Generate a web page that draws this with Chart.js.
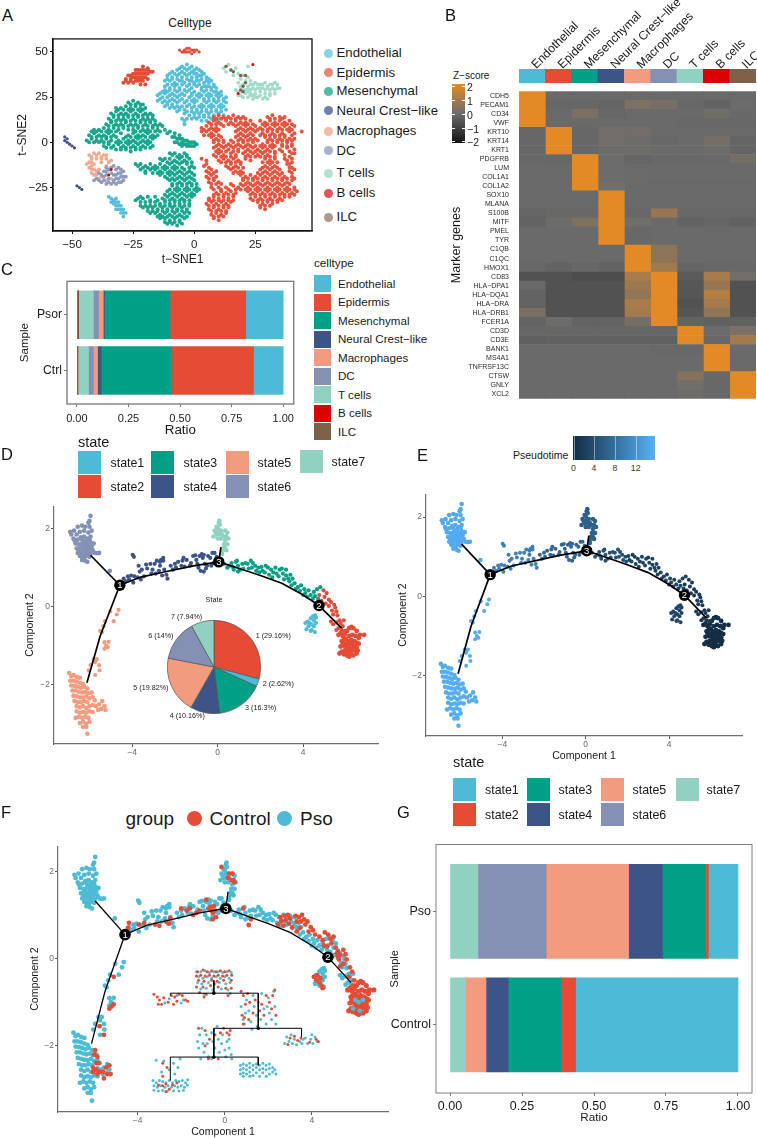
<!DOCTYPE html>
<html>
<head>
<meta charset="utf-8">
<title>Cell atlas panels</title>
<script src="https://cdn.jsdelivr.net/npm/chart.js@4"></script>
<style>
  html, body { margin: 0; padding: 0; background: #fff; }
  body { position: relative; width: 757px; height: 1138px; overflow: hidden; font-family: "Liberation Sans", Arial, sans-serif; }
  canvas { position: absolute; }
  .t { position: absolute; white-space: nowrap; line-height: 1; }
  .k { position: absolute; }
</style>
</head>
<body>
<script>
const tsneXTicks = [-50, -25, 0, 25];
const tsneYTicks = [-25, 0, 25, 50];
const celltypes = ['Endothelial', 'Epidermis', 'Mesenchymal', 'Neural Crest\u2212like', 'Macrophages', 'DC', 'T cells', 'B cells', 'ILC'];
const celltypeColors = ['#4DBBD5', '#E64B35', '#00A087', '#3C5488', '#F39B7F', '#8491B4', '#91D1C2', '#DC0000', '#7E6148'];
const tsneLegendColors = ['#86D3E6', '#EF8372', '#52BBA3', '#7180AC', '#F6B9A1', '#A9B2CF', '#B4E0D4', '#E8505B', '#AE9A88'];

const endoMain = [-5,42,-3,43,-1,42,1,41,-9,39,-7,40,-5,39,-3,40,-1,39,1,38,3,39,-11,37,-9,36,-7,37,-5,36,-3,37,-1,36,1,36,3,37,5,36,6,35,
  -12,34,-10,34,-8,33,-6,34,-4,33,-2,34,0,33,2,34,4,33,6,33,8,32,-12,31,-10,30,-8,31,-6,30,-3,31,-1,30,1,31,3,30,5,31,7,30,9,30,
  -13,28,-11,28,-9,27,-7,28,-5,27,-3,28,-1,27,2,27,4,28,6,27,8,28,10,27,-15,26,-13,25,-11,25,-9,24,-7,25,-5,24,-2,25,0,24,2,25,4,24,6,25,8,24,10,25,12,24,
  -15,23,-13,22,-11,22,-9,21,-7,22,-4,22,-2,21,0,22,3,21,5,22,7,21,9,22,11,21,13,22,-12,20,-10,19,-8,19,-6,19,-4,18,-1,19,1,18,3,19,5,18,7,19,9,18,11,19,13,18,
  -7,17,-4,16,-2,15,0,16,2,16,4,15,6,16,8,15,10,16,12,15,-1,13,1,13,3,12,5,12,7,13,9,12,-5,13,-4,12,-3,13,-4,10];
const endoFill = [-6,41,-4,41,-2,41,0,40,2,40,-10,38,-8,38,-6,38,-4,38,-2,38,0,38,2,37,4,38,-11,35,-9,35,-7,35,-5,34,-3,35,-1,34,1,34,3,35,5,34,7,34,
  -11,32,-9,32,-7,32,-5,32,-2,32,0,32,2,32,4,31,6,31,8,31,-12,29,-10,29,-8,29,-6,29,-4,29,-2,29,0,28,3,29,5,29,7,29,9,28,11,28,
  -14,27,-12,27,-10,26,-8,26,-6,26,-4,26,-1,26,1,26,3,26,5,26,7,26,9,26,11,26,13,25,-14,24,-12,23,-10,23,-8,23,-6,23,-3,23,-1,23,1,23,4,23,6,23,8,23,10,23,12,23,
  -11,21,-9,20,-7,20,-5,20,-3,20,0,20,2,20,4,20,6,20,8,20,10,20,12,20,-6,18,-3,17,-1,17,1,17,3,17,5,17,7,17,9,17,11,17,0,14,2,14,4,14,6,14,8,14,10,13];
const endoSmall = [-35,-30,-34,-31,-33,-32,-34,-33,-33,-34,-31,-33,-32,-35,-30,-35,-31,-37,-29,-37,-30,-39,-28,-39,-29,-41,-32,-37,-33,-33,-32,-33,-31,-35,-30,-37,-29,-39,-32,-31];
const epiMain = [8,14,10,15,12,14,14,14,16,15,18,14,20,14,30,14,32,15,35,14,37,14,6,11,8,12,10,11,13,12,15,11,17,12,19,11,21,11,23,12,27,12,29,11,31,12,33,11,35,12,37,11,39,12,
  3,8,5,9,7,8,9,8,12,9,17,9,19,8,21,9,23,8,25,9,27,8,29,9,31,8,33,9,35,8,37,9,39,8,41,9,3,6,5,6,7,5,9,6,17,6,19,5,21,6,23,5,25,6,28,5,30,6,32,5,34,6,36,5,39,6,41,5,44,6,
  7,3,9,2,11,3,17,3,19,2,21,3,23,2,25,2,29,3,31,2,33,3,35,2,37,3,39,2,41,2,8,0,10,-1,12,0,14,-1,16,0,18,-1,20,0,22,-1,24,0,28,-1,30,0,32,-1,34,0,36,-1,38,0,40,-1,
  8,-3,10,-4,12,-3,14,-4,16,-3,18,-4,20,-3,22,-4,24,-3,26,-4,28,-3,30,-4,32,-3,35,-4,38,-3,41,-4,8,-7,10,-6,12,-7,15,-6,17,-7,20,-6,22,-7,24,-6,26,-7,28,-6,30,-7,33,-6,37,-7,40,-6,
  3,-9,5,-10,10,-10,12,-9,14,-10,16,-9,18,-10,21,-9,23,-10,29,-9,31,-10,33,-9,38,-10,40,-9,4,-13,6,-14,13,-13,15,-12,17,-13,19,-12,29,-13,31,-12,33,-13,39,-12,40,-14,
  5,-16,7,-15,9,-16,15,-15,17,-16,19,-16,27,-15,29,-16,31,-15,33,-16,35,-15,39,-16,41,-15,5,-19,7,-18,9,-19,19,-18,21,-19,23,-18,25,-19,27,-18,29,-19,31,-18,33,-19,35,-18,37,-19,40,-19,
  6,-22,8,-21,10,-22,20,-21,22,-22,24,-21,26,-22,28,-21,30,-22,32,-21,34,-22,36,-21,38,-22,40,-21,7,-25,10,-25,13,-25,16,-24,18,-25,20,-24,22,-25,24,-24,26,-25,28,-24,30,-25,32,-24,34,-25,36,-24,38,-25,41,-25,
  9,-28,11,-27,13,-28,15,-27,17,-28,22,-27,24,-28,26,-27,28,-28,30,-27,32,-28,34,-27,36,-28,38,-27,40,-28,42,-27,6,-31,8,-30,10,-31,12,-30,14,-31,16,-30,23,-31,25,-30,27,-31,29,-30,31,-31,33,-30,35,-31,37,-30,39,-30,
  5,-34,7,-33,9,-34,11,-33,13,-34,15,-33,26,-33,28,-34,30,-33,32,-34,34,-33,6,-37,8,-36,10,-37,12,-36,14,-36,27,-36,29,-37,7,-40,9,-39,11,-40,13,-39,8,-42,10,-43];
const epiFill = [9,13,11,13,13,13,15,13,17,13,19,13,21,13,31,13,33,13,36,13,7,10,9,10,11,10,14,10,16,10,18,10,20,10,22,10,24,10,28,10,30,10,32,10,34,10,36,10,38,10,40,10,
  4,7,6,7,8,7,10,7,18,7,20,7,22,7,24,7,26,7,28,7,30,7,32,7,34,7,36,7,38,7,40,7,4,4,6,4,8,4,10,4,18,4,20,4,22,4,24,4,27,4,29,4,31,4,33,4,35,4,37,4,40,4,
  8,1,10,1,12,1,15,1,18,1,20,1,22,1,24,1,26,1,30,1,32,1,34,1,36,1,38,1,40,1,9,-2,11,-2,13,-2,15,-2,17,-2,19,-2,21,-2,23,-2,25,-2,27,-2,29,-2,31,-2,33,-2,36,-2,38,-2,40,-2,
  9,-5,11,-5,13,-5,16,-5,18,-5,21,-5,23,-5,25,-5,27,-5,29,-5,31,-5,33,-5,36,-5,39,-5,41,-6,9,-8,11,-8,13,-8,15,-8,17,-8,21,-8,23,-8,25,-8,27,-8,29,-8,31,-8,33,-8,37,-9,39,-8,
  11,-11,13,-11,15,-11,17,-11,19,-11,28,-11,30,-11,32,-11,34,-11,38,-12,40,-11,5,-12,14,-14,16,-14,18,-14,20,-14,28,-14,30,-14,32,-14,34,-14,39,-14,
  6,-17,8,-17,16,-17,18,-17,20,-17,26,-17,28,-17,30,-17,32,-17,34,-17,36,-17,40,-17,6,-20,8,-20,20,-20,22,-20,24,-20,26,-20,28,-20,30,-20,32,-20,34,-20,36,-20,38,-20,41,-20,
  7,-23,9,-23,11,-23,15,-23,19,-23,21,-23,23,-23,25,-23,27,-23,29,-23,31,-23,33,-23,35,-23,37,-23,39,-23,8,-26,11,-26,14,-26,17,-26,19,-26,21,-26,23,-26,25,-26,27,-26,29,-26,31,-26,33,-26,35,-26,37,-26,39,-26,41,-26,
  8,-29,10,-29,12,-29,14,-29,16,-29,23,-29,25,-29,27,-29,29,-29,31,-29,33,-29,35,-29,37,-29,39,-29,41,-29,6,-32,8,-32,10,-32,12,-32,14,-32,16,-32,24,-32,26,-32,28,-32,30,-32,32,-32,34,-32,36,-32,
  6,-35,8,-35,10,-35,12,-35,14,-35,27,-35,29,-35,31,-35,7,-38,9,-38,11,-38,13,-38,8,-41,10,-41,12,-41];
const epiUpper = [-29,33,-27,33,-25,33,-23,34,-21,34,-28,35,-26,35,-24,36,-22,36,-20,36,-19,35,-27,37,-25,38,-23,38,-21,38,-19,38,-24,40,-22,40,-20,40,-18,39,-21,42,-19,41,-17,39,-22,32,-20,32,-28,34,-26,34,-24,34,-22,34,-25,36,-23,36,-21,36,-26,37,-24,38,-22,38,-20,38,-23,40,-21,40,-19,40];
const epiTip = [-6,51,-5,50,-4,51,-3,50,-2,52,-1,51,0,50,1,51,2,50,-3,52,-1,49,-4,50,-2,50,0,51];
const mesTop = [-27,22,-25,23,-23,22,-21,21,-32,19,-30,19,-28,20,-26,19,-24,20,-22,19,-20,19,-34,16,-32,17,-30,16,-28,16,-26,17,-24,16,-22,17,-20,16,-18,16,
  -35,13,-33,14,-31,13,-29,13,-27,14,-25,13,-23,14,-21,13,-19,13,-17,13,-36,10,-34,11,-32,10,-30,10,-28,11,-26,10,-24,10,-22,11,-20,10,-18,11,-16,10,-14,10,
  -41,7,-39,7,-37,8,-35,7,-33,8,-31,7,-29,8,-27,7,-25,7,-23,8,-21,7,-19,7,-17,8,-15,7,-12,7,-10,6,-43,4,-41,5,-39,4,-37,4,-35,5,-33,4,-27,4,-25,5,-23,4,-21,4,-19,5,-17,4,-15,4,-8,5,-6,4,
  -44,1,-42,2,-40,1,-38,1,-36,2,-34,1,-31,1,-29,2,-27,1,-25,1,-23,2,-21,1,-19,1,-17,2,-9,3,-7,2,-5,2,-3,1,-1,0,1,-1,-6,-1,-4,-1,-2,-2,0,-2,-8,0,-5,0,-3,-1,
  -37,-2,-35,-1,-33,-2,-31,-1,-29,-2,-27,-1,-25,-2,-23,-1,-21,-2,-19,-1,-17,-2,-32,-4,-30,-4,-28,-4,-26,-5,-24,-4,-22,-4];
const mesTopFill = [-26,21,-24,21,-22,21,-31,18,-29,18,-27,18,-25,18,-23,18,-21,18,-33,15,-31,15,-29,15,-27,15,-25,15,-23,15,-21,15,-19,15,-17,15,
  -34,12,-32,12,-30,12,-28,12,-26,12,-24,12,-22,12,-20,12,-18,12,-16,12,-35,9,-33,9,-31,9,-29,9,-27,9,-25,9,-23,9,-21,9,-19,9,-17,9,-15,9,-13,9,
  -42,6,-40,6,-38,6,-36,6,-34,6,-32,6,-30,5,-24,6,-22,6,-20,6,-18,6,-16,6,-14,6,-11,5,-42,3,-40,3,-38,3,-36,3,-34,3,-32,3,-28,3,-26,3,-24,3,-22,3,-20,3,-18,3,-16,3,-8,3,-6,2,
  -43,0,-41,0,-39,0,-37,0,-35,0,-32,0,-30,0,-28,0,-26,0,-24,0,-22,0,-20,0,-18,0,-4,1,-2,0,0,0,-7,0,-36,-3,-34,-3,-30,-3,-28,-3,-26,-3,-24,-3,-22,-3,-20,-3,-18,-3,-5,-2,-3,-2,-1,-2];
const mesBottom = [-10,-6,-8,-6,-6,-7,-4,-6,-3,-8,-14,-9,-12,-9,-10,-9,-8,-10,-6,-9,-4,-10,-2,-9,-24,-12,-22,-12,-20,-13,-18,-12,-16,-13,-14,-12,-12,-13,-10,-12,-8,-13,-6,-12,-3,-12,-1,-13,
  -22,-15,-20,-16,-18,-15,-16,-15,-14,-16,-12,-15,-10,-16,-8,-15,-6,-16,-4,-15,-2,-16,-14,-18,-12,-19,-10,-18,-8,-18,-6,-19,-4,-18,-2,-19,0,-18,-10,-21,-8,-21,-6,-22,-4,-21,-2,-22,0,-21,
  -9,-24,-7,-25,-5,-24,-3,-25,-1,-24,1,-25,-11,-27,-9,-28,-7,-27,-5,-28,-3,-27,-1,-28,1,-27,-22,-30,-19,-30,-16,-30,-13,-31,-11,-30,-9,-31,-7,-30,-5,-31,-3,-30,-1,-30,
  -24,-32,-22,-33,-20,-33,-18,-33,-16,-33,-14,-34,-12,-33,-10,-34,-8,-33,-6,-34,-4,-33,-2,-34,-21,-36,-19,-36,-17,-36,-15,-37,-13,-36,-11,-37,-9,-36,-7,-37,-5,-36,-3,-37,
  -18,-39,-16,-39,-14,-40,-12,-39,-10,-40,-8,-39,-6,-40,-4,-39,-2,-39,-14,-42,-12,-42,-10,-43,-8,-42,-6,-43,-4,-42,-11,-45,-9,-45,-7,-46,-5,-45];
const mesBottomFill = [-9,-7,-7,-8,-5,-8,-3,-7,-13,-10,-11,-11,-9,-11,-7,-11,-5,-11,-3,-11,-1,-11,-23,-13,-21,-14,-19,-14,-17,-14,-15,-14,-13,-14,-11,-14,-9,-14,-7,-14,-5,-14,-2,-14,0,-14,
  -20,-17,-17,-17,-15,-17,-13,-17,-11,-17,-9,-17,-7,-17,-5,-17,-3,-17,-1,-17,-11,-20,-9,-20,-7,-20,-5,-20,-3,-20,-1,-20,-9,-23,-7,-23,-5,-23,-3,-23,-1,-23,1,-23,
  -10,-26,-8,-26,-6,-26,-4,-26,-2,-26,0,-26,2,-26,-12,-29,-10,-29,-8,-29,-6,-29,-4,-29,-2,-29,0,-29,-23,-31,-21,-31,-18,-32,-15,-32,-12,-32,-10,-32,-8,-32,-6,-32,-4,-32,-2,-32,
  -22,-35,-20,-35,-18,-35,-16,-35,-14,-35,-12,-35,-10,-35,-8,-35,-6,-35,-4,-35,-2,-35,-19,-38,-17,-38,-15,-38,-13,-38,-11,-38,-9,-38,-7,-38,-5,-38,-3,-38,
  -15,-41,-13,-41,-11,-41,-9,-41,-7,-41,-5,-41,-3,-41,-12,-44,-10,-44,-8,-44,-6,-44];
const neuralCrest = [-53,3,-52,2,-53,1,-52,0,-51,-1,-50,-2,-49,-3,-48,-24,-47,-25,-46,-26];
const macPts = [-43,-7,-41,-6,-39,-6,-37,-7,-36,-9,-42,-9,-40,-9,-38,-9,-34,-10,-43,-11,-41,-12,-43,-14,-41,-15,-42,-17,-40,-18,-38,-19,-34,-20,-36,-21,-39,-15,-36,-13,
  -42,-8,-40,-7,-38,-8,-36,-7,-35,-11,-42,-11,-44,-12,-42,-13,-42,-15,-40,-16,-41,-18,-39,-20,-38,-11];
const dcPts = [-40,-20,-38,-22,-36,-23,-34,-23,-32,-23,-30,-22,-28,-19,-29,-16,-31,-14,-33,-13,-35,-15,-37,-16,-39,-17,-30,-19,-33,-18,-35,-20,-32,-20,-31,-17,-29,-21,-37,-19,-41,-21,-36,-14,
  -39,-21,-37,-21,-35,-22,-33,-22,-31,-22,-29,-19,-30,-15,-32,-15,-34,-14,-36,-16,-38,-18,-36,-18,-34,-17,-32,-18,-30,-17,-33,-21,-31,-20];
const tPts = [18,26,17,29,19,31,21,33,23,32,25,33,27,32,29,33,31,32,33,33,20,29,22,30,24,30,26,30,28,30,30,30,32,30,34,30,35,30,19,26,21,27,23,27,25,27,27,28,29,27,31,27,33,27,22,25,24,24,26,25,28,24,30,24,
  18,28,20,32,22,31,24,32,26,32,28,32,30,31,32,32,34,32,19,28,21,29,23,29,25,29,27,30,29,29,31,29,33,29,20,25,23,26,25,25,27,26,29,25,31,26,22,28,24,26,
  12,41,14,43,13,39,15,40,17,41,16,37,18,38,20,37,22,36,23,34,21,34,19,35,22,42,18,33,-35,-17];
const bPts = [24,43,18,27,-34,-15,-35,-18];
const ilcPts = [13,42,15,40,16,39,19,37,21,37,21,33,20,31,19,29,20,28];

// ---------- panel B ----------
const genes = ['CDH5','PECAM1','CD34','VWF','KRT10','KRT14','KRT1','PDGFRB','LUM','COL1A1','COL1A2','SOX10','MLANA','S100B','MITF','PMEL','TYR','C1QB','C1QC','HMOX1','CD83','HLA\u2212DPA1','HLA\u2212DQA1','HLA\u2212DRA','HLA\u2212DRB1','FCER1A','CD3D','CD3E','BANK1','MS4A1','TNFRSF13C','CTSW','GNLY','XCL2'];
const zScores = [
  [2,-.05,-.05,-.05,-.05,-.05,-.05,-.05,-.05],
  [2,-.12,-.12,-.15,.3,.18,-.08,-.22,-.02],
  [2,-.05,.25,-.12,-.05,-.05,-.05,.08,-.06],
  [2,-.05,-.05,-.05,-.05,-.05,-.08,-.08,-.08],
  [-.12,2,-.12,.08,.08,-.06,-.05,-.05,-.05],
  [-.12,2,-.12,.1,.02,-.1,-.05,.15,-.15],
  [-.12,2,-.12,.02,.05,-.05,-.05,.05,-.15],
  [-.08,-.12,2,0,-.15,-.1,-.1,-.06,.14],
  [-.04,-.04,2,0,-.05,-.05,-.05,-.05,-.05],
  [-.04,-.04,2,.03,-.03,-.05,-.05,-.05,-.05],
  [-.04,-.04,2,.1,-.05,-.06,-.06,-.06,-.06],
  [-.04,-.04,-.04,2,-.04,-.04,-.04,-.04,-.04],
  [-.04,-.04,-.04,2,-.04,-.04,-.04,-.04,-.04],
  [-.15,-.1,-.1,2,-.1,.72,-.1,-.1,-.1],
  [-.2,.02,.3,2,.1,-.05,-.2,-.15,-.25],
  [-.04,-.04,-.04,2,-.08,-.04,-.04,-.04,-.04],
  [-.04,-.04,-.04,2,-.08,-.04,-.04,-.04,-.04],
  [-.04,-.04,-.04,-.04,2,.55,-.04,-.04,-.04],
  [-.04,-.04,-.04,-.04,2,.55,-.04,-.04,-.04],
  [-.1,-.2,-.12,-.2,2,.85,-.15,-.1,-.1],
  [-.6,-.6,-.7,-.7,1.05,2,-.4,1,.1],
  [-.1,-.6,-.6,-.6,.8,2,-.5,.72,-.6],
  [-.2,-.6,-.6,-.6,.6,2,-.5,1.2,-.6],
  [-.2,-.6,-.6,-.6,1,2,-.6,.9,-.6],
  [.2,-.6,-.6,-.6,.9,2,-.5,.6,-.6],
  [-.2,.02,-.2,-.2,.15,2,-.2,-.25,-.25],
  [-.12,-.12,-.12,-.12,-.12,-.12,2,-.02,.25],
  [-.3,-.25,-.25,-.25,-.25,-.25,2,-.1,.9],
  [-.04,-.04,-.04,-.04,-.04,-.08,-.08,2,-.04],
  [-.04,-.04,-.04,-.04,-.04,-.04,-.04,2,-.04],
  [-.04,-.04,-.04,-.04,-.04,-.04,-.04,2,-.04],
  [-.04,-.04,-.04,-.04,-.04,-.04,.4,-.1,2],
  [-.04,-.04,-.04,-.04,-.04,-.04,.1,-.1,2],
  [-.04,-.04,-.04,-.04,-.04,-.04,.03,-.1,2]
];

// ---------- panel C ----------
const ratioTicks = [0, 0.25, 0.5, 0.75, 1];
const celltypeSamples = ['Ctrl', 'Psor'];
const stackOrderC = ['ILC', 'B cells', 'T cells', 'DC', 'Macrophages', 'Neural Crest\u2212like', 'Mesenchymal', 'Epidermis', 'Endothelial'];
const psorRatios = [.007, .001, .072, .025, .023, .006, .318, .366, .182];
const ctrlRatios = [.004, .001, .051, .024, .02, .017, .343, .396, .144];

// ---------- panels D, E, F: pseudotime trajectory ----------
const compXTicks = [-4, 0, 4];
const compYTicks = [-2, 0, 2];
const states = ['state1', 'state2', 'state3', 'state4', 'state5', 'state6', 'state7'];
const stateColors = ['#4DBBD5', '#E64B35', '#00A087', '#3C5488', '#F39B7F', '#8491B4', '#91D1C2'];
const statePieShare = [2.62, 29.16, 16.3, 10.16, 19.82, 14, 7.94];

const state1Pts = [4.1,-.42,4.2,-.38,4.25,-.5,4.3,-.42,4.35,-.3,4.4,-.45,4.4,-.6,4.45,-.25,4.5,-.35,4.5,-.5,4.55,-.22,4.55,-.65,4.6,-.42,4.35,-.62,4.6,-.28,4.15,-.58];
const state2Arm = [4.75,.3,4.85,.15,4.95,.42,5,.25,5.05,.08,5.1,.35,5.2,.18,5.2,.02,5.3,.12,5.35,-.1,5.45,.05,5.5,-.02,5.55,-.12,5.4,-.2,5.6,-.22,5.3,-.38,5.4,-.45,5.55,-.4,5.7,-.35,5.75,-.42,5.85,-.5,5.9,-.35,5.65,-.55,5.55,-.6,5.8,-.6,5.95,-.62];
const state2Blob = [5.65,-.72,5.75,-.68,5.85,-.75,5.95,-.7,6.05,-.62,6.15,-.55,6.25,-.52,6.35,-.55,6.5,-.62,6.65,-.72,6.85,-.72,6.6,-.8,6.45,-.75,6.3,-.72,6.15,-.75,6,-.82,5.9,-.85,5.8,-.88,6.1,-.88,6.25,-.85,6.4,-.88,6.5,-.92,6.6,-.95,6.3,-.95,6.15,-.98,6,-.95,5.9,-1,5.75,-1.02,6.05,-1.05,6.2,-1.08,6.35,-1.03,6.5,-1.03,6.55,-1.12,6.4,-1.12,6.25,-1.15,6.1,-1.15,5.95,-1.12,5.8,-1.15,5.7,-1.2,5.9,-1.22,6.05,-1.25,6.2,-1.25,6.35,-1.25,6.5,-1.2,6.15,-1.28,5.85,-.95,6.2,-.92,6.4,-.98,6.1,-1,6.3,-1.1,6,-1.18];
const state3West = [.3,1.1,.45,1,.55,1.05,.7,1.02,.75,.95,.65,1.12,.85,1.15,.9,1.18,.95,1.05,1.05,.95,.95,.9,1.2,.98,1.3,1.12,1.15,1.1,1.4,1.1,1.45,.98,1.55,1.18,1.65,1.12,1.6,1,1.75,1.05,1.8,.92,1.9,1,1.95,.88];
const state3East = [2.05,1.02,2.1,.92,2.2,.88,2.25,1.05,2.35,1,2.4,.82,2.5,.95,2.6,.88,2.55,.75,2.7,1,2.75,.85,2.85,.78,2.9,.95,3,.98,3.05,.85,3.1,.7,3.2,.8,3.2,.95,3.3,.72,3.35,.65,3.4,.82,3.5,.72,3.45,.55,3.6,.6,3.65,.45,3.75,.5,3.85,.4,3.9,.55,4,.3,4.05,.45,4.1,.35,4.2,.25,4.25,.42,4.35,.3,4.45,.2,4.5,.38,4.55,.27,4.65,.45,4.7,.2,4.8,.5];
const state4West = [-4.3,.65,-4.4,.72,-4.2,.78,-4.05,.8,-3.9,.78,-4.15,.7,-3.95,.62,-3.75,.75,-3.6,.7,-3.45,.78,-3.98,1.33,-3.92,1.28,-3.65,.9,-3.7,1.05,-3.55,.95,-3.35,1.08,-3.3,.98,-3.15,1.1,-3.05,.95,-2.95,1.1,-3.1,.85,-2.9,.85,-2.75,.92,-2.85,1.18,-2.7,1.05,-2.55,1.18,-2.65,1.2,-2.5,.95,-2.4,.82,-2.6,.8,-2.35,.72,-2.55,1.25,-2.7,1.15];
const state4East = [-2.2,1.05,-2,1.1,-2.1,.95,-1.95,1,-1.85,1.15,-1.65,1.18,-1.7,1.05,-1.55,1.03,-1.45,1.2,-1.6,1.25,-1.3,1.05,-1.25,1.12,-1.15,1.3,-1.05,1.32,-1,1.2,-.95,1.1,-.85,1.3,-.9,1,-.8,.92,-.75,1.35,-.65,1.33,-.7,1.25,-.6,1.1,-.65,.9,-.55,.98,-.45,1.3,-.5,1.05,-.35,1.25,-.25,1.38,-.3,1.05,-.15,1.38,-.1,1.2,-.05,1.28,-.2,1.12];
const state5Arm = [-4.64,-.08,-4.72,-.2,-4.87,-.37,-5.03,-.12,-5.27,-.37,-5.35,-.5,-5.42,-.66,-5.5,-.62,-5.22,-1,-5.3,-1.08,-5.15,-1.04,-5.3,-.91,-5.65,-1.34,-5.8,-1.34,-5.95,-1.5,-5.55,-1.5,-5.73,-1.75,-5.53,-1.63,-6.04,-1.63,-5.73,-1.42,-5.1,-.9];
const state5Blob = [-6.95,-1.7,-6.85,-1.78,-6.75,-1.75,-6.6,-1.8,-6.45,-1.82,-6.9,-1.9,-6.75,-1.9,-6.6,-1.92,-6.45,-1.95,-6.3,-1.98,-6.85,-2.02,-6.7,-2.03,-6.55,-2.05,-6.4,-2.08,-6.25,-2.05,-6.1,-2.1,-6.8,-2.15,-6.65,-2.15,-6.5,-2.18,-6.35,-2.2,-6.2,-2.18,-6.05,-2.22,-5.9,-2.2,-6.75,-2.28,-6.6,-2.3,-6.45,-2.32,-6.3,-2.33,-6.15,-2.3,-6,-2.35,-5.85,-2.32,-6.7,-2.42,-6.55,-2.45,-6.4,-2.45,-6.25,-2.42,-6.1,-2.45,-5.75,-2.4,-6.6,-2.55,-6.45,-2.58,-6.3,-2.55,-6.15,-2.6,-6,-2.55,-5.85,-2.52,-5.7,-2.55,-5.55,-2.5,-5.4,-2.42,-5.3,-2.55,-5.25,-2.65,-5.45,-2.62,-5.6,-2.65,-6.6,-2.68,-6.45,-2.72,-6.3,-2.7,-6.15,-2.72,-6,-2.68,-5.85,-2.7,-6.65,-2.85,-6.5,-2.82,-6.35,-2.85,-6.2,-2.82,-6.05,-2.85,-6.45,-2.98,-6.3,-2.95,-6.15,-3,-6,-2.95,-6.3,-3.08,-6.15,-3.08,-6.1,-3.26];
const state6Pts = [-6.9,1.92,-6.85,1.85,-6.72,1.95,-6.55,2.05,-6.35,2.08,-6.2,2.05,-6.05,2.15,-6,2.2,-5.95,2.33,-6,2.05,-5.9,1.95,-6.05,1.9,-6.25,1.95,-6.45,1.92,-6.6,1.85,-6.75,1.75,-6.55,1.72,-6.4,1.78,-6.25,1.8,-6.1,1.75,-5.95,1.8,-5.95,1.65,-6.15,1.62,-6.3,1.65,-6.5,1.6,-6.65,1.62,-6.6,1.5,-6.45,1.5,-6.3,1.52,-6.15,1.5,-6,1.5,-5.85,1.45,-5.8,1.62,-6.55,1.38,-6.4,1.4,-6.25,1.42,-6.1,1.38,-5.95,1.37,-5.75,1.38,-5.55,1.38,-5.65,1.37,-6.45,1.3,-6.3,1.28,-6.15,1.3,-6,1.28,-6.35,1.2,-6.2,1.18,-6.1,1.15,-6.25,1.25,-5.05,.92,
  -6.4,1.6,-6.2,1.58,-6.05,1.58,-6.5,1.45,-6.35,1.45,-6.2,1.45,-6.05,1.45,-5.9,1.55,-6.7,1.7,-6.35,1.72,-6.15,1.7,-6,1.72,-6.4,1.35,-6.2,1.35];
const state7Pts = [-.2,1.8,-.15,1.95,-.1,1.9,-.05,2.05,0,2.02,.05,2.15,.08,2.2,.1,2.1,.05,1.95,.15,1.95,.2,1.85,.1,1.85,-.05,1.85,0,1.75,.15,1.75,.3,1.8,.35,1.95,.45,1.9,.4,1.8,.5,1.75,.35,1.7,.45,1.6,.3,1.6,.35,1.5,.25,1.5,.2,1.42,.4,1.45,.2,1.35];

// points of the arc that show as Control (red) in panel F, the rest is Pso
const controlArc = [2.45,.78,2.55,.95,2.6,.85,2.7,.75,2.75,.98,2.8,.88,2.9,1,2.95,.8,3,.92,3.1,.72,3.25,.98,3.3,.85,3.4,.95,3.5,.85,3.55,1,3.65,.9,3.7,.78,3.8,.85,3.95,.72,3.85,.62,4.05,.65,4.15,.55,4.35,.5,4.5,.42,4.6,.6,4.75,.55,4.85,.45,4.9,.35,5,.5,5.1,.25,5.2,.15,4.7,.28,4.55,.3,3.45,.7,3.3,.62,
  5.15,.12,5.25,-.02,5.3,.08,5.45,.2,5.55,.1,5.6,-.02,5.45,-.12,5.3,-.18,5.75,-.2,5.85,-.3,5.7,-.42,5.95,-.5,5.9,-.62,5.2,.05,4.1,-.42,4.2,-.5,4.25,-.38,4.35,-.55,4.45,-.62,4.5,-.68,4.4,-.45,
  -.75,1.15,-.85,1.35,-1.15,1.1,-.6,1.1,-.55,1.05,-.5,1.2,-.65,1.18,-.45,1.1,-.55,.9,-.4,.95,1.1,.77,.85,1.15,1.2,.9,-1.6,1.15,-1.75,1.1,-2,1.15,-2.55,.8,-3,.75,-2.7,.85,-1.3,1.05,-1.45,1,-2.5,.92,-3.2,.78,-3.7,.82,-4.4,.82,-4.45,.7,-3.95,.78,-.1,1.1,
  -.15,2.1,.2,1.95,.35,1.95,.4,1.8,.45,1.75,.3,1.8,.15,1.85,-6,-2.2,-5.95,-2.1,-5.85,-2.25,-5.9,-2.4,-5.8,-2.4,-6.05,-2.5,-5.9,-2.55,-5.75,-2.6,-5.6,-2.6,-5.45,-2.5,-5.3,-2.45,-5.25,-2.65,-5.4,-2.65,-5.55,-2.75,-5.85,-2.65,-6.05,-2.6,-5.1,-1.05,-5.2,-1.1,-5.3,-1.15,-5.1,-.42,-5.75,-1.55,-5.55,-1.75];
const psoInBlob = [6,-.95,6.15,-1,6.2,-1.2,6.35,-.95,5.9,-1.15];

// small branch tree inset of panel F
const treePso = [-1.3,-.3,-1.1,-.3,-.9,-.28,-.7,-.32,-.5,-.3,-.3,-.3,-.1,-.32,.1,-.3,.3,-.32,-1.2,-.42,-1,-.45,-.8,-.42,-.6,-.45,-.4,-.42,-.2,-.45,0,-.42,.2,-.45,-1.25,-.55,-1.05,-.58,-.75,-.55,-.45,-.58,-.25,-.55,.05,-.58,.25,-.55,-1.1,-.7,-.85,-.68,-.55,-.72,-.15,-.7,.15,-.72,-.95,-.82,.25,-.8,
  -2.75,-1.02,-2.55,-.92,-2.2,-.85,-2,-1.02,-1.9,-.95,.75,-1.1,.85,-1.4,.9,-1.5,1,-.95,1.1,-1.2,1.2,-1.45,1.3,-.85,1.35,-1.1,1.45,-1.3,1.55,-1,1.65,-1.4,1.7,-.8,1.8,-1.15,1.9,-1.5,2,-.9,2.05,-1.25,2.15,-1.4,2.25,-.75,2.3,-1.1,2.35,-1.5,.95,-1.25,1.5,-1.55,1.25,-1.62,1.95,-1.1,
  2.75,-1.95,2.85,-1.8,2.95,-1.9,3.05,-1.75,3.2,-1.85,3.3,-1.98,3.45,-1.9,3.55,-1.95,3.7,-1.82,3.8,-1.95,3.95,-1.85,4.05,-1.95,4.15,-1.8,4.25,-1.9,3.1,-1.95,3.6,-1.85,4,-1.75,
  -1.25,-1.9,-1.2,-2.05,-1.15,-1.75,-1.05,-1.6,-1,-1.95,-.95,-2.15,-.85,-1.75,-.8,-1.95,-.75,-2.25,-.6,-1.7,-.55,-1.9,-.45,-2.05,-.35,-1.55,-.3,-1.85,-.25,-2.15,-.15,-1.95,-.1,-1.75,0,-2.1,.05,-2.25,.1,-1.9,.2,-2.05,.3,-2.2,.32,-2.3,.2,-1.85,-1.1,-2.3,-.6,-2.3,
  -3.3,-2.8,-3.15,-2.85,-3,-2.8,-2.85,-2.82,-2.7,-2.85,-2.55,-2.8,-2.4,-2.85,-2.25,-2.8,-2.1,-2.82,-1.95,-2.8,-1.8,-2.85,-1.7,-2.78,-3.25,-2.92,-3.1,-2.95,-2.95,-2.92,-2.75,-2.95,-2.6,-2.92,-2.45,-2.95,-2.3,-2.92,-2.15,-2.95,-2,-2.92,-1.85,-2.95,-1.72,-2.9,-3.25,-3.02,-3.05,-3.04,-2.85,-3.02,-2.65,-3.05,-2.35,-3.03,-2.1,-3.04,-1.9,-3.02,-3.15,-2.33,-2.8,-2.35,-2.35,-2.4,-2.15,-2.5,-2.55,-2.55,-2.9,-2.6,-2.3,-2.65,-2.05,-2.3,
  .72,-2.45,.72,-2.55,.72,-2.65,.85,-2.42,.85,-2.52,.85,-2.62,.85,-2.7,1,-2.45,1,-2.55,1,-2.65,1.15,-2.4,1.15,-2.5,1.15,-2.6,1.15,-2.7,1.3,-2.45,1.3,-2.55,1.3,-2.68,1.45,-2.42,1.45,-2.5,1.45,-2.62,1.6,-2.45,1.6,-2.55,1.6,-2.7,1.75,-2.4,1.75,-2.52,1.75,-2.62,1.9,-2.45,1.9,-2.55,1.9,-2.7,2.05,-2.42,2.05,-2.52,2.05,-2.65,2.2,-2.5,2.2,-2.6,2.3,-2.55,2.35,-2.65];
const treeControl = [-1.25,-.3,-1,-.26,-.8,-.3,-.6,-.28,-.4,-.3,-.2,-.28,0,-.3,.2,-.28,.32,-.38,-1.3,-.4,-1.1,-.38,-.9,-.4,-.7,-.38,-.5,-.4,-.3,-.38,-.1,-.4,.1,-.38,-1.2,-.5,-.95,-.52,-.6,-.5,-.35,-.52,-.05,-.5,.3,-.5,-1.3,-.65,-1,-.65,-.65,-.62,-.3,-.65,.05,-.68,.3,-.68,-1.15,-.78,-.85,-.82,-.95,-.88,.15,-.85,
  -3.25,-.82,-3.1,-.88,-3,-.95,-2.9,-1.05,-2.8,-.9,-2.6,-1,-2.45,-.85,-2.3,-.88,-2.2,-.98,-2.1,-.82,-1.95,-.85,-1.8,-.95,-1.7,-.98,-2.35,-1.05,-3.05,-1.05,
  .75,-.75,.85,-.85,.95,-1.05,1.05,-.8,.8,-1.3,.9,-1.35,1.15,-1,1.3,-1.25,1.4,-.95,1.6,-1.2,1.7,-1.05,1.8,-1.3,1.9,-.85,2.05,-1,2.15,-1.15,2.2,-.85,2.3,-.72,2.35,-1.3,1.1,-1.4,.85,-1.5,
  3,-1.82,3.2,-1.78,3.35,-1.88,3.5,-1.82,3.9,-1.92,4.2,-1.85,4.3,-1.9,2.9,-1.97,-1.2,-1.6,-.9,-1.65,-.7,-1.85,-.45,-1.75,-.2,-1.7,-.05,-1.6,.1,-1.7,.2,-1.75,.25,-1.65,-.9,-2,-.3,-2.3,-.75,-2.3,
  -3.05,-2.9,-2.85,-2.92,-2.7,-2.88,-2.55,-3,-2.4,-2.9,-2.2,-2.85,-2.7,-3.05,-2.85,-2.4,-2.65,-2.5,-2.85,-2.7];

const branchLines = [
  [-4.58,.55,-5.95,1.32],
  [-4.58,.55,-5.5,-.75,-6.12,-1.95],
  [-4.58,.55,-3.6,.76,-2.5,.89,-1.2,1.04,.05,1.15],
  [.05,1.15,.15,1.53],
  [.05,1.15,1,.98,2,.8,3,.6,4,.3,4.74,.03,5.2,-.22,5.8,-.55]
];
const branchNodes = [-4.58,.55,4.74,.03,.05,1.15];
const branchNodeIds = ['1', '2', '3'];
const treeLines = [
  [-2.5,-.85,-2.5,-.794,1.54,-.794,1.54,-1.6],
  [-.5,-.5,-.5,-.794],
  [3.53,-1.8,3.53,-1.6,-.5,-1.6,-.5,-2.26],
  [-2.5,-2.8,-2.5,-2.26,1.54,-2.26,1.54,-2.45]
];
const treeNodes = [-.5,-.794,1.54,-1.6,-.5,-2.26];

const pseudotimeLow = [19, 43, 67], pseudotimeHigh = [86, 177, 247], pseudotimeMax = 15.7;
const pseudotimeTicks = ['0', '4', '8', '12'];
const state1Time = 3, state2BlobTime = .3, state2ArmTime = 1.8, state3EastTime = 2.8, state3WestTime = 4.6, state4EastTime = 7, state4WestTime = 10, state5Time = 15.2, state6Time = 15, state7Time = 6.2;

// ---------- panel G ----------
const groupSamples = ['Control', 'Pso'];
const stackOrderG = [6, 5, 4, 3, 2, 1, 0]; // index into states, left to right
const psoStateRatios = [.103, .009, .15, .118, .286, .237, .097];
const controlStateRatios = [.564, .049, .185, .077, .071, 0, .054];

// ---------- helpers ----------
Chart.defaults.font.family = '"Liberation Sans", Arial, sans-serif';
Chart.defaults.animation = false;
Chart.defaults.plugins.legend.display = false;
Chart.defaults.plugins.tooltip.enabled = false;

const pairs = flat => {
  const out = [];
  for (let i = 0; i < flat.length; i += 2) out.push({ x: flat[i], y: flat[i + 1] });
  return out;
};
const minus = v => String(v).replace('-', '\u2212');

const label = (text, x, y, o = {}) => {
  const el = document.createElement('div');
  el.className = 't';
  el.textContent = text;
  el.style.left = x + 'px';
  el.style.top = y + 'px';
  el.style.fontSize = (o.size || 12) + 'px';
  el.style.color = o.color || '#1a1a1a';
  const dx = o.align === 'center' ? '-50%' : o.align === 'right' ? '-100%' : '0';
  el.style.transform = `translate(${dx},-50%)` + (o.rot ? ` rotate(${o.rot}deg)` : '');
  document.body.appendChild(el);
};
const swatch = (x, y, w, h, bg, round) => {
  const el = document.createElement('div');
  el.className = 'k';
  el.style.cssText = `left:${x}px;top:${y}px;width:${w}px;height:${h}px;background:${bg};` + (round ? 'border-radius:50%;' : '');
  document.body.appendChild(el);
};

// canvas placed so the chart area lands on plot = {l,t,r,b}; m = room left/top/right/bottom
const mount = (plot, m, config) => {
  const c = document.createElement('canvas');
  c.width = plot.r - plot.l + m.l + m.r;
  c.height = plot.b - plot.t + m.t + m.b;
  c.style.left = (plot.l - m.l) + 'px';
  c.style.top = (plot.t - m.t) + 'px';
  document.body.appendChild(c);
  config.options = config.options || {};
  config.options.responsive = false;
  config.options.layout = { autoPadding: false, padding: { left: 0, top: config.topAxis ? 0 : m.t, right: m.r, bottom: config.topAxis ? m.b : 0 } };
  return new Chart(c, config);
};

const frame = (color, width) => ({
  id: 'frame',
  afterDatasetsDraw(chart) {
    const { ctx, chartArea: a } = chart;
    ctx.save();
    ctx.strokeStyle = color;
    ctx.lineWidth = width;
    ctx.strokeRect(a.left, a.top, a.right - a.left, a.bottom - a.top);
    ctx.restore();
  }
});

const nodeNumbers = {
  id: 'nodeNumbers',
  afterDatasetsDraw(chart) {
    const { ctx, scales } = chart;
    ctx.save();
    ctx.fillStyle = '#fff';
    ctx.font = '9.5px "Liberation Sans"';
    ctx.textAlign = 'center';
    ctx.textBaseline = 'middle';
    pairs(branchNodes).forEach((p, i) => ctx.fillText(branchNodeIds[i], scales.x.getPixelForValue(p.x), scales.y.getPixelForValue(p.y) + 0.5));
    ctx.restore();
  }
};

// numeric axis with hand-picked ticks and a fixed box size
const numAxis = (o) => ({
  type: 'linear',
  min: o.min, max: o.max,
  offset: false,
  stacked: o.stacked,
  grid: { display: true, offset: false, drawOnChartArea: false, drawTicks: true, tickLength: o.tickLen || 3, tickColor: o.tickColor || '#555', tickWidth: 1 },
  border: { display: o.line !== false, color: o.lineColor || '#6e6e6e', width: o.lineWidth || 1.2 },
  afterBuildTicks: s => { s.ticks = o.vals.map(v => ({ value: v })); },
  afterFit: s => { if (o.axis === 'x') s.height = o.box; else s.width = o.box; },
  ticks: { autoSkip: false, maxRotation: 0, padding: o.pad === undefined ? 2 : o.pad, color: o.color || '#6a6a6a', font: { size: o.size }, callback: o.fmt || minus },
  title: o.title ? { display: true, text: o.title, color: '#1a1a1a', font: { size: o.titleSize }, padding: o.axis === 'x' ? { bottom: o.titlePad, top: 0 } : { top: o.titlePad, bottom: 0 } } : { display: false }
});

const scatterSet = (flat, color, radius) => ({ data: pairs(flat), backgroundColor: color, borderWidth: 0, pointRadius: radius, pointHoverRadius: radius, showLine: false });

// ---------- panel A ----------
const plotA = { l: 53, t: 32, r: 312, b: 231 };
mount(plotA, { l: 53, t: 2, r: 2, b: 36 }, {
  type: 'scatter',
  data: { datasets: [
    scatterSet(bPts, '#DC0000', 1.5),
    scatterSet(ilcPts, '#7E6148', 1.7),
    scatterSet(tPts, '#A4DACB', 1.9),
    scatterSet(dcPts, '#8F9BBE', 1.9),
    scatterSet(macPts, '#F3A88E', 1.9),
    scatterSet(neuralCrest, '#3C5488', 1.6),
    scatterSet(mesBottomFill, '#16A78E', 2),
    scatterSet(mesBottom, '#16A78E', 2),
    scatterSet(mesTopFill, '#16A78E', 2),
    scatterSet(mesTop, '#16A78E', 2),
    scatterSet(epiTip, '#E64B35', 1.6),
    scatterSet(epiUpper, '#E64B35', 2),
    scatterSet(epiFill, '#E9533D', 2),
    scatterSet(epiMain, '#E9533D', 2),
    scatterSet(endoSmall, '#58BFD8', 1.9),
    scatterSet(endoFill, '#58BFD8', 2),
    scatterSet(endoMain, '#58BFD8', 2)
  ] },
  options: { scales: {
    x: numAxis({ axis: 'x', min: -57.8, max: 48.2, vals: tsneXTicks, box: 36, size: 11.5, color: '#1a1a1a', lineColor: '#111', tickColor: '#111', title: 't\u2212SNE1', titleSize: 12, titlePad: 0, pad: 4 }),
    y: numAxis({ axis: 'y', min: -49, max: 57.2, vals: tsneYTicks, box: 53, size: 11.5, color: '#1a1a1a', lineColor: '#111', tickColor: '#111', title: 't\u2212SNE2', titleSize: 12, titlePad: 15 })
  } },
  plugins: [frame('#111', 1.3)]
});
label('Celltype', 190, 23, { size: 12, align: 'center' });
const legendYA = [53, 72.5, 91, 110.5, 131, 150.5, 173, 193, 217];
celltypes.forEach((name, i) => {
  swatch(323.5, legendYA[i] - 4.5, 9, 9, tsneLegendColors[i], true);
  label(name, 336.5, legendYA[i], { size: 13.2 });
});

// ---------- panel B ----------
const hex = h => [1, 3, 5].map(i => parseInt(h.slice(i, i + 2), 16));
const zLow = hex('#141414'), zMid = hex('#6C6C6C'), zHigh = hex('#E38A27');
const mix = (a, b, t) => `rgb(${a.map((v, i) => Math.round(v + (b[i] - v) * t)).join(',')})`;
const zColor = z => z < 0 ? mix(zMid, zLow, -z / 2) : mix(zMid, zHigh, z / 2);

mount({ l: 519, t: 69, r: 756, b: 83 }, { l: 0, t: 69, r: 1, b: 0 }, {
  type: 'bar',
  topAxis: true,
  data: { labels: celltypes, datasets: [{ data: celltypes.map(() => 1), backgroundColor: celltypeColors, barPercentage: 1, categoryPercentage: 1, borderWidth: 0 }] },
  options: { scales: {
    x: { position: 'top', grid: { display: false, drawTicks: false }, border: { display: false }, afterFit: s => { s.height = 69; },
      ticks: { autoSkip: false, minRotation: 45, maxRotation: 45, padding: -3, labelOffset: 12, color: '#1a1a1a', font: { size: 12.2 } } },
    y: { display: false, min: 0, max: 1 }
  } }
});
mount({ l: 519, t: 85, r: 756, b: 405 }, { l: 60, t: 0, r: 1, b: 0 }, {
  type: 'bar',
  data: {
    labels: genes,
    datasets: celltypes.map((name, col) => ({
      label: name,
      data: genes.map(() => 1),
      backgroundColor: zScores.map(row => zColor(row[col])),
      barPercentage: 1, categoryPercentage: 1, borderWidth: 0
    }))
  },
  options: { indexAxis: 'y', scales: {
    x: { display: false, stacked: true, min: 0, max: celltypes.length },
    y: { stacked: true, grid: { display: false }, border: { display: false }, afterFit: s => { s.width = 60; },
      ticks: { autoSkip: false, padding: 2, color: '#2a2a2a', font: { size: 7 } } }
  } }
});
label('Z\u2212score', 453, 76, { size: 10 });
swatch(452, 84, 13, 59, 'linear-gradient(to bottom,#E38A27,#6C6C6C 50%,#141414)');
['2', '1', '0', '\u22121', '\u22122'].forEach((t, i) => {
  const y = [86.5, 100.5, 114.5, 128.5, 141.5][i];
  swatch(452, y - 0.5, 3, 1, '#fff');
  swatch(462, y - 0.5, 3, 1, '#fff');
  label(t, 467, y, { size: 10.5 });
});
label('Marker genes', 456, 245, { size: 12.5, align: 'center', rot: -90 });

// ---------- panel C ----------
const barSets = (names, colorsOf, rowsTop, rowsBottom, thick) => names.map((name, i) => ({
  label: name,
  data: [{ x: rowsBottom[i], y: 1 }, { x: rowsTop[i], y: 2 }],
  backgroundColor: colorsOf(i),
  borderWidth: 0,
  barThickness: thick
}));
mount({ l: 67, t: 273, r: 297, b: 404 }, { l: 67, t: 1, r: 2, b: 37 }, {
  type: 'bar',
  data: { datasets: barSets(stackOrderC, i => celltypeColors[celltypes.indexOf(stackOrderC[i])], psorRatios, ctrlRatios, 48) },
  options: { indexAxis: 'y', scales: {
    x: numAxis({ axis: 'x', stacked: true, min: -.048, max: 1.051, vals: ratioTicks, box: 37, size: 11, color: '#1a1a1a', line: false, tickColor: '#777', fmt: v => v.toFixed(2), title: 'Ratio', titleSize: 13.4, titlePad: 3, pad: 5 }),
    y: numAxis({ axis: 'y', stacked: true, min: .4, max: 2.6, vals: [1, 2], box: 67, size: 12.2, color: '#1a1a1a', line: false, tickColor: '#777', fmt: v => celltypeSamples[v - 1], title: 'Sample', titleSize: 11.5, titlePad: 18 })
  } },
  plugins: [frame('#7f7f7f', 1.4)]
});
label('celltype', 314, 263, { size: 11.7 });
celltypes.forEach((name, i) => {
  const y = 275 + i * 18.5;
  swatch(314, y, 17, 17, celltypeColors[i]);
  label(name, 338, y + 8.5, { size: 11.6 });
});

// ---------- panels D, E, F ----------
const compAxes = (bx, by, xTitle) => ({
  x: numAxis({ axis: 'x', min: -7.66, max: 7.5, vals: compXTicks, box: bx, size: 8.5, title: xTitle ? 'Component 1' : null, titleSize: 10.6, titlePad: 0, pad: 1 }),
  y: numAxis({ axis: 'y', min: -3.52, max: 2.58, vals: compYTicks, box: by.box, size: 8.5, title: 'Component 2', titleSize: 10.6, titlePad: by.pad, pad: 1 })
});
const nodeSet = (flat, radius) => ({ data: pairs(flat), backgroundColor: '#000', pointRadius: radius, pointBorderWidth: 0, showLine: false });
const lineSets = (lines, width) => lines.map(l => ({ data: pairs(l), borderColor: '#000', borderWidth: width, pointRadius: 0, showLine: true, tension: 0 }));

// panel D
const stateColor = n => stateColors[n - 1];
mount({ l: 54, t: 501, r: 378, b: 744 }, { l: 54, t: 1, r: 2, b: 20 }, {
  type: 'scatter',
  data: { datasets: [
    nodeSet(branchNodes, 5.7),
    ...lineSets(branchLines, 1.7),
    scatterSet(state1Pts, stateColor(1), 2.1),
    scatterSet(state2Arm, stateColor(2), 2.1),
    scatterSet(state2Blob, stateColor(2), 2.4),
    scatterSet(state3East, stateColor(3), 2.1),
    scatterSet(state3West, stateColor(3), 2.1),
    scatterSet(state4East, stateColor(4), 2.1),
    scatterSet(state4West, stateColor(4), 2.1),
    scatterSet(state5Arm, stateColor(5), 2.1),
    scatterSet(state5Blob, stateColor(5), 2.3),
    scatterSet(state6Pts, stateColor(6), 2.3),
    scatterSet(state7Pts, stateColor(7), 2.3)
  ] },
  options: { scales: compAxes(20, { box: 54, pad: 24 }, false) },
  plugins: [nodeNumbers]
});
// pie inset of panel D
const pieOrder = [1, 0, 2, 3, 4, 5, 6];
mount({ l: 167, t: 620, r: 261, b: 714 }, { l: 0, t: 0, r: 0, b: 0 }, {
  type: 'pie',
  data: {
    labels: pieOrder.map(i => String(i + 1)),
    datasets: [{ data: pieOrder.map(i => statePieShare[i]), backgroundColor: [stateColors[1], stateColors[0], ...stateColors.slice(2)], borderColor: '#555', borderWidth: 0.7 }]
  },
  options: { rotation: 0, scales: {} }
});
label('State', 214, 600, { size: 7.2, align: 'center' });
[['1 (29.16%)', 255.7, 635.7], ['2 (2.62%)', 262.7, 683.7], ['3 (16.3%)', 245, 707.7], ['4 (10.16%)', 169.7, 716.3], ['5 (19.82%)', 133.3, 687.7], ['6 (14%)', 148.3, 636.3], ['7 (7.94%)', 171, 617]]
  .forEach(p => label(p[0], p[1], p[2], { size: 7.2 }));

const stateLegend = (titleX, titleY, colX, labelX, y1, y2, y7) => {
  label('state', titleX, titleY, { size: 14.5 });
  states.forEach((name, i) => {
    const col = Math.min(Math.floor(i / 2), 3);
    const y = i === 6 ? y7 : (i % 2 ? y2 : y1);
    swatch(colX[col], y, 22.5, 22.5, stateColors[i]);
    label(name, labelX[col], y + 11.5, { size: 12.4 });
  });
};
stateLegend(78, 442, [78, 151, 226, 300], [110.5, 183.5, 257.5, 331.5], 451, 475, 450);

// panel E
const timeColor = t => {
  const c = pseudotimeLow.map((v, i) => Math.round(v + (pseudotimeHigh[i] - v) * t / pseudotimeMax));
  return `rgb(${c.join(',')})`;
};
mount({ l: 426, t: 489, r: 742, b: 736 }, { l: 46, t: 1, r: 2, b: 26 }, {
  type: 'scatter',
  data: { datasets: [
    nodeSet(branchNodes, 5.7),
    ...lineSets(branchLines, 1.7),
    scatterSet(state1Pts, timeColor(state1Time), 2),
    scatterSet(state2Arm, timeColor(state2ArmTime), 2),
    scatterSet(state2Blob, timeColor(state2BlobTime), 2.4),
    scatterSet(state3East, timeColor(state3EastTime), 2),
    scatterSet(state3West, timeColor(state3WestTime), 2),
    scatterSet(state4East, timeColor(state4EastTime), 2),
    scatterSet(state4West, timeColor(state4WestTime), 2),
    scatterSet(state5Arm, timeColor(state5Time), 2),
    scatterSet(state5Blob, timeColor(state5Time), 2.3),
    scatterSet(state6Pts, timeColor(state6Time), 2.3),
    scatterSet(state7Pts, timeColor(state7Time), 2.3)
  ] },
  options: { scales: compAxes(26, { box: 46, pad: 17 }, true) },
  plugins: [nodeNumbers]
});
label('Pseudotime', 513, 455, { size: 10.5 });
swatch(573, 436, 82, 24, 'linear-gradient(to right,rgb(19,43,67),rgb(86,177,247))');
pseudotimeTicks.forEach((t, i) => {
  const x = [573.5, 594, 615, 635.7][i];
  swatch(x, 436, 0.6, 24, 'rgba(255,255,255,.45)');
  label(t, x, 468, { size: 8.7, align: 'center', color: '#333' });
});
stateLegend(453, 762, [453, 527, 601, 676], [485, 558.5, 632.5, 706.5], 778, 803, 778);

// panel F
const controlRed = '#E64B35', psoBlue = '#4DBBD5';
const allPso = [...state1Pts, ...state2Arm, ...psoInBlob, ...state3East, ...state3West, ...state4East, ...state4West, ...state5Arm, ...state5Blob, ...state6Pts, ...state7Pts];
mount({ l: 58, t: 841, r: 388, b: 1112 }, { l: 58, t: 1, r: 2, b: 26 }, {
  type: 'scatter',
  data: { datasets: [
    nodeSet(branchNodes, 5.8),
    nodeSet(treeNodes, 1.8),
    ...lineSets(branchLines, 1.3),
    ...lineSets(treeLines, 1),
    scatterSet(treeControl, controlRed, 1.5),
    scatterSet(treePso, psoBlue, 1.5),
    scatterSet(psoInBlob, psoBlue, 2.4),
    scatterSet(controlArc, controlRed, 2.4),
    scatterSet(state2Blob, controlRed, 2.6),
    scatterSet(allPso, psoBlue, 2.4)
  ] },
  options: { scales: compAxes(26, { box: 58, pad: 29 }, true) },
  plugins: [nodeNumbers]
});
label('group', 125.5, 818, { size: 19 });
swatch(186.5, 810.5, 15, 15, controlRed, true);
label('Control', 209.5, 818, { size: 19 });
swatch(277, 810.5, 15, 15, psoBlue, true);
label('Pso', 300, 818, { size: 19 });

// ---------- panel G ----------
mount({ l: 436, t: 836, r: 752, b: 1093 }, { l: 48, t: 1, r: 2, b: 32 }, {
  type: 'bar',
  data: { datasets: barSets(stackOrderG.map(i => states[i]), i => stateColors[stackOrderG[i]], stackOrderG.map(i => psoStateRatios[i]), stackOrderG.map(i => controlStateRatios[i]), 94) },
  options: { indexAxis: 'y', scales: {
    x: numAxis({ axis: 'x', stacked: true, min: -.0487, max: 1.0487, vals: ratioTicks, box: 32, size: 12.5, color: '#1a1a1a', line: false, tickColor: '#777', fmt: v => v.toFixed(2), title: 'Ratio', titleSize: 11.7, titlePad: 0, pad: 3 }),
    y: numAxis({ axis: 'y', stacked: true, min: .4, max: 2.59, vals: [1, 2], box: 48, size: 12.5, color: '#1a1a1a', line: false, tickColor: '#777', fmt: v => groupSamples[v - 1], title: 'Sample', titleSize: 11, titlePad: 0, pad: 2 })
  } },
  plugins: [frame('#7f7f7f', 1)]
});

// panel letters
[['A', 2, 15], ['B', 445, 15], ['C', 1, 269], ['D', 1, 454], ['E', 417, 455], ['F', 1, 812], ['G', 397, 812]]
  .forEach(p => label(p[0], p[1], p[2], { size: 16.5, color: '#111' }));
</script>
</body>
</html>
